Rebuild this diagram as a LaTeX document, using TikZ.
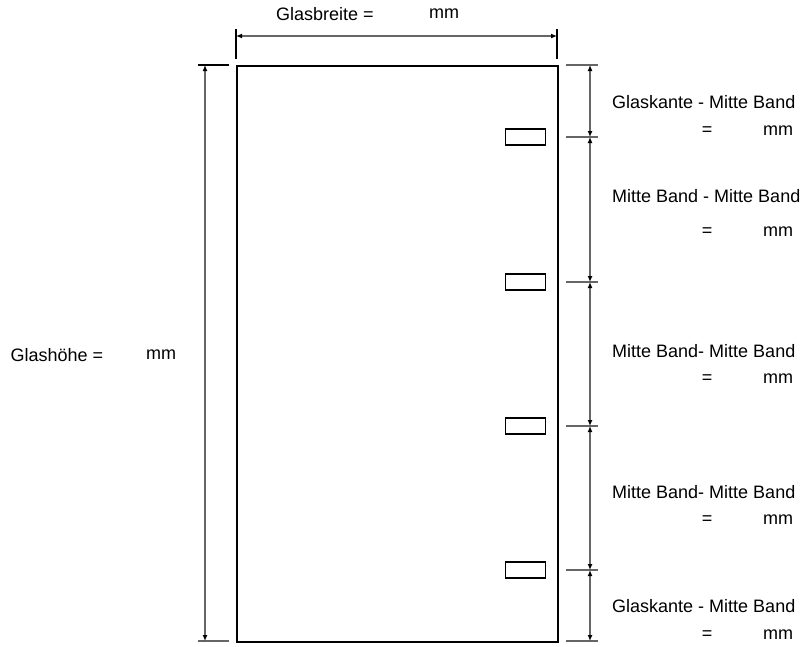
\documentclass[tikz,border=0pt]{standalone}
\usepackage{fontspec}
\setmainfont{Liberation Sans}
\usetikzlibrary{positioning,arrows.meta}

\begin{document}
\begin{tikzpicture}[x=1pt,y=-1pt]
    \tikzstyle{every node}=[inner sep=0,font=\fontsize{18}{21}\selectfont]
    \tikzstyle{glass}=[draw,line width=1.5,minimum width=321,minimum height=576]
    \tikzstyle{band}=[draw,line width=1.2,minimum width=40,minimum height=16]
    \tikzstyle{ext}=[draw=black!60,line width=1.2]
    \tikzstyle{dim}=[ext,{Latex[length=6,width=5,black]}-{Latex[length=6,width=5,black]}]
    \tikzstyle{note}=[anchor=west]

    \useasboundingbox (0,0) rectangle (800,646);

    % glass pane and hinges
    \node[glass,anchor=north west] (glass) at (236,65) {};
    \node[band] (b1) at (525.5,137) {};
    \node[band] (b2) at (525.5,282) {};
    \node[band] (b3) at (525.5,426) {};
    \node[band] (b4) at (525.5,570) {};

    % width
    \coordinate (w1) at (236,36);
    \coordinate (w2) at (557,36);
    \draw[ext,black] (236,29) -- (236,59);
    \draw[ext,black] (557,29) -- (557,59);
    \draw[dim] (w1) -- (w2);
    \node (lw) at (325,14) {Glasbreite =};
    \node (lwmm) at (444,14) {mm};

    % height
    \coordinate (h1) at (205,65);
    \coordinate (h2) at (205,641);
    \draw[ext,black] (198,65) -- (229,65);
    \draw[ext] (198,641) -- (229,641);
    \draw[dim] (h1) -- (h2);
    \node (lh) at (57,355) {Glashöhe =};
    \node (lhmm) at (161,355) {mm};

    % hinge distances
    \foreach \n/\y in {0/65,1/137,2/282,3/426,4/570,5/641}{
        \coordinate (t\n) at (590,\y);
        \draw[ext] (566,\y) -- (598,\y);
    }
    \draw[dim] (t0) -- (t1);
    \draw[dim] (t1) -- (t2);
    \draw[dim] (t2) -- (t3);
    \draw[dim] (t3) -- (t4);
    \draw[dim] (t4) -- (t5);

    \node[note] (d1) at (612,102) {Glaskante - Mitte Band};
    \node[note] (d2) at (612,196) {Mitte Band - Mitte Band};
    \node[note] (d3) at (612,351) {Mitte Band- Mitte Band};
    \node[note] (d4) at (612,492) {Mitte Band- Mitte Band};
    \node[note] (d5) at (612,606) {Glaskante - Mitte Band};
    \foreach \n/\y in {1/131,2/232,3/379,4/520,5/635}{
        \node (e\n) at (707,\y) {=};
        \node (m\n) at (778,\y) {mm};
    }
\end{tikzpicture}
\end{document}
